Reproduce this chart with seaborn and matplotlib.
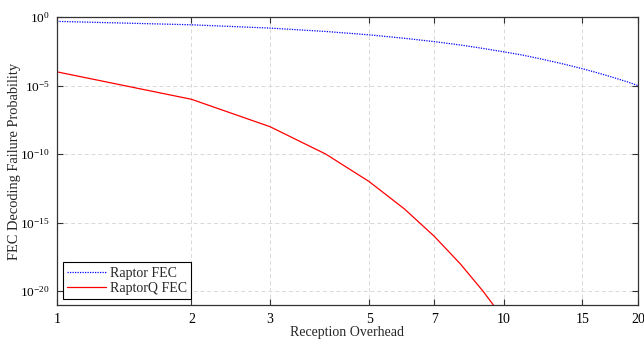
import matplotlib
matplotlib.use("Agg")
import matplotlib.pyplot as plt
import matplotlib.ticker as mticker
import pandas as pd
import seaborn as sns

# Values (log-log plot)
overhead = [1, 2, 3, 4, 5, 6, 7, 8, 9, 10, 11, 12, 13, 14, 15, 16, 17, 18, 19, 20]
raptor = [0.48, 0.27, 0.155, 0.088, 0.050, 0.028, 0.016, 0.0091, 0.0051, 0.0029,
          0.0017, 0.00094, 0.00053, 0.00030, 0.00017, 9.7e-5, 5.5e-5, 3.1e-5, 1.8e-5, 1.0e-5]
raptorq = [1e-4, 1e-6, 1e-8, 1e-10, 1e-12, 1e-14, 1e-16, 1e-18, 1e-20, 1e-22,
           1e-24, 1e-26, 1e-28, 1e-30, 1e-32, 1e-34, 1e-36, 1e-38, 1e-40, 1e-42]
xticks = [1, 2, 3, 5, 7, 10, 15, 20]
yticks = [1e-20, 1e-15, 1e-10, 1e-5, 1e0]
ytick_labels = ["$10^{\\mathrm{-20}}$", "$10^{\\mathrm{-15}}$", "$10^{\\mathrm{-10}}$",
                "$10^{\\mathrm{-5}}$", "$10^{0}$"]

df = pd.DataFrame({"overhead": overhead, "Raptor FEC": raptor, "RaptorQ FEC": raptorq})

sns.set_style("ticks")
plt.rcParams["font.family"] = ["Liberation Serif", "DejaVu Serif"]
plt.rcParams["mathtext.fontset"] = "custom"
plt.rcParams["mathtext.rm"] = "Liberation Serif"
plt.rcParams["mathtext.it"] = "Liberation Serif:italic"
plt.rcParams["axes.unicode_minus"] = False

fig = plt.figure(figsize=(6.44, 3.39), dpi=100)
ax = fig.add_axes([57 / 644, 1 - 305 / 339, (638 - 57) / 644, (305 - 17) / 339])

sns.lineplot(data=df, x="overhead", y="Raptor FEC", ax=ax, color="blue",
             linestyle=(0, (1, 1)), linewidth=0.9, label="Raptor FEC")
sns.lineplot(data=df, x="overhead", y="RaptorQ FEC", ax=ax, color="red",
             linewidth=0.9, label="RaptorQ FEC")

ax.set_xscale("log")
ax.set_yscale("log")
ax.set_xlim(1, 20)
ax.set_ylim(1e-21, 1e0)

ax.xaxis.set_major_locator(mticker.FixedLocator(xticks))
ax.xaxis.set_major_formatter(mticker.FixedFormatter([str(t) for t in xticks]))
ax.xaxis.set_minor_locator(mticker.NullLocator())
ax.yaxis.set_major_locator(mticker.FixedLocator(yticks))
ax.yaxis.set_major_formatter(mticker.FixedFormatter(ytick_labels))
ax.yaxis.set_minor_locator(mticker.NullLocator())

ax.tick_params(which="major", direction="in", length=4, width=0.8, color="#333333",
               top=True, right=True, labelsize=10, labelcolor="black")
ax.tick_params(axis="x", pad=6)
ax.tick_params(axis="y", pad=5, labelsize=9.6)
ax.grid(True, which="major", linestyle=(0, (4, 3)), color="#d8d8d8", linewidth=0.7)
for s in ax.spines.values():
    s.set_color("#333333")
    s.set_linewidth(0.9)

ax.set_xlabel("Reception Overhead", fontsize=10, labelpad=0)
ax.set_ylabel("FEC Decoding Failure Probability", fontsize=10.4)
ax.yaxis.set_label_coords(-36 / 581, 0.5)

leg = ax.legend(loc="lower left", fontsize=10, frameon=True, fancybox=False,
                handlelength=2.8, borderpad=0.3, labelspacing=0.2,
                handletextpad=0.3, borderaxespad=0.4)
leg.get_frame().set_edgecolor("black")
leg.get_frame().set_linewidth(0.8)
leg.get_frame().set_alpha(1)

fig.savefig("out.png", dpi=100)
